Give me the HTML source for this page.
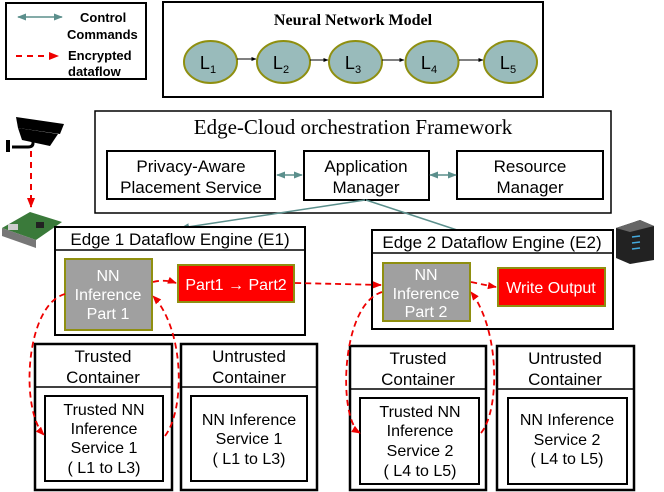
<!DOCTYPE html>
<html><head><meta charset="utf-8"><style>
html,body{margin:0;padding:0;background:#fff;}
svg{display:block;}
text{font-family:"Liberation Sans",Arial,sans-serif;fill:#000;}
.s{font-family:"Liberation Serif",serif;}
.w{fill:#fff;}
</style></head><body>
<svg width="664" height="492" viewBox="0 0 664 492" xmlns="http://www.w3.org/2000/svg">
<defs>
<marker id="tl" viewBox="0 0 10 10" refX="9" refY="5" markerWidth="6" markerHeight="6" orient="auto-start-reverse"><path d="M0,1 L10,5 L0,9 z" fill="#5b8f8c"/></marker>
<marker id="rd" viewBox="0 0 10 10" refX="9" refY="5" markerWidth="5" markerHeight="5" orient="auto"><path d="M0,1 L10,5 L0,9 z" fill="#e00"/></marker>
<marker id="bk" viewBox="0 0 10 10" refX="9" refY="5" markerWidth="5" markerHeight="5" orient="auto"><path d="M0,1 L10,5 L0,9 z" fill="#000"/></marker>
</defs>

<!-- legend -->
<rect x="6" y="3" width="140" height="76" fill="#fff" stroke="#000" stroke-width="2"/>
<line x1="18" y1="17" x2="62" y2="17" stroke="#5b8f8c" stroke-width="1.5" marker-start="url(#tl)" marker-end="url(#tl)"/>
<g font-size="13" font-weight="bold">
<text x="80" y="22">Control</text>
<text x="67" y="39">Commands</text>
<text x="68" y="60">Encrypted</text>
<text x="68" y="76">dataflow</text>
</g>
<line x1="16" y1="56" x2="58" y2="56" stroke="#e00" stroke-width="2" stroke-dasharray="6,5" marker-end="url(#rd)"/>

<!-- NN model -->
<rect x="163" y="2" width="380" height="95" fill="#fff" stroke="#000" stroke-width="2"/>
<text x="353" y="25" class="s" font-size="16" font-weight="bold" text-anchor="middle">Neural Network Model</text>
<g stroke="#8f8f10" stroke-width="2" fill="#99bbbb">
<ellipse cx="210.5" cy="62" rx="26.5" ry="21"/>
<ellipse cx="283.5" cy="62" rx="26.5" ry="21"/>
<ellipse cx="355.5" cy="62" rx="26.5" ry="21"/>
<ellipse cx="432" cy="62" rx="26.5" ry="21"/>
<ellipse cx="510.5" cy="62" rx="26.5" ry="21"/>
</g>
<g stroke="#000" stroke-width="1" marker-end="url(#bk)">
<line x1="237" y1="59" x2="256" y2="59"/><line x1="310" y1="60" x2="328" y2="60"/>
<line x1="382" y1="60" x2="404" y2="60"/><line x1="459" y1="60" x2="483" y2="60"/>
</g>
<g font-size="18" text-anchor="middle">
<text x="208" y="69">L<tspan font-size="11" dy="4">1</tspan></text>
<text x="281" y="69">L<tspan font-size="11" dy="4">2</tspan></text>
<text x="353" y="69">L<tspan font-size="11" dy="4">3</tspan></text>
<text x="429" y="69">L<tspan font-size="11" dy="4">4</tspan></text>
<text x="508" y="69">L<tspan font-size="11" dy="4">5</tspan></text>
</g>

<!-- orchestration -->
<rect x="95" y="111" width="516" height="102" fill="#fff" stroke="#000" stroke-width="1.5"/>
<text x="353" y="134" class="s" font-size="21" text-anchor="middle">Edge-Cloud orchestration Framework</text>
<rect x="107" y="151" width="168" height="48" fill="#fff" stroke="#000" stroke-width="2"/>
<text x="191" y="172" font-size="17" text-anchor="middle">Privacy-Aware</text>
<text x="191" y="193" font-size="17" text-anchor="middle">Placement Service</text>
<rect x="304" y="151" width="125" height="49" fill="#fff" stroke="#000" stroke-width="2"/>
<text x="366" y="172" font-size="17" text-anchor="middle">Application</text>
<text x="366" y="193" font-size="17" text-anchor="middle">Manager</text>
<rect x="457" y="151" width="146" height="48" fill="#fff" stroke="#000" stroke-width="2"/>
<text x="530" y="172" font-size="17" text-anchor="middle">Resource</text>
<text x="530" y="193" font-size="17" text-anchor="middle">Manager</text>
<g stroke="#5b8f8c" stroke-width="1.5">
<line x1="277" y1="175" x2="302" y2="175" marker-start="url(#tl)" marker-end="url(#tl)"/>
<line x1="430" y1="175" x2="456" y2="175" marker-start="url(#tl)" marker-end="url(#tl)"/>
<line x1="365" y1="200" x2="181" y2="228" marker-end="url(#tl)"/>
<line x1="366" y1="200" x2="457" y2="230"/>
</g>

<!-- camera -->
<g fill="#000">
<polygon points="16,117 64,124 60,134 18,128"/>
<polygon points="18,128 58,134 50,146 22,140"/>
<circle cx="33" cy="136" r="3.5"/>
<path d="M33,136 L33,143 Q33,147 28,147 L12,147" stroke="#000" stroke-width="3" fill="none"/>
<rect x="6" y="140" width="4" height="12"/>
</g>
<line x1="31" y1="151" x2="31" y2="207" stroke="#e00" stroke-width="2" stroke-dasharray="6,5" marker-end="url(#rd)"/>
<!-- raspberry pi -->
<polygon points="2,228 30,212 62,222 36,240" fill="#3a7a3a"/>
<polygon points="2,228 36,240 36,248 2,236" fill="#777"/>
<rect x="8" y="224" width="10" height="6" fill="#ccc"/>
<rect x="36" y="222" width="8" height="6" fill="#222"/>
<!-- server -->
<polygon points="616,228 640,220 654,226 654,260 630,264 616,258" fill="#222"/>
<polygon points="616,228 640,220 654,226 630,232" fill="#666"/>
<g stroke="#4ad" stroke-width="1.5"><line x1="632" y1="237" x2="640" y2="236"/><line x1="632" y1="243" x2="640" y2="242"/><line x1="632" y1="249" x2="640" y2="248"/></g>

<!-- E1 -->
<rect x="55" y="227" width="250" height="108" fill="#fff" stroke="#000" stroke-width="2"/>
<line x1="55" y1="250" x2="305" y2="250" stroke="#000" stroke-width="1.5"/>
<text x="180" y="245" font-size="17" text-anchor="middle">Edge 1 Dataflow Engine (E1)</text>
<rect x="65" y="259" width="87" height="71" fill="#a0a0a0" stroke="#8f8f10" stroke-width="2"/>
<g font-size="16" text-anchor="middle"><text class="w" x="108" y="281">NN</text><text class="w" x="108" y="300">Inference</text><text class="w" x="108" y="319">Part 1</text></g>
<rect x="178" y="265" width="116" height="37" fill="#f00" stroke="#8f8f10" stroke-width="2"/>
<text class="w" x="236" y="290" font-size="16" text-anchor="middle">Part1 → Part2</text>

<!-- E2 -->
<rect x="372" y="230" width="241" height="99" fill="#fff" stroke="#000" stroke-width="2"/>
<line x1="372" y1="253" x2="613" y2="253" stroke="#000" stroke-width="1.5"/>
<text x="492" y="248" font-size="17" text-anchor="middle">Edge 2 Dataflow Engine (E2)</text>
<rect x="383" y="263" width="87" height="58" fill="#a0a0a0" stroke="#8f8f10" stroke-width="2"/>
<g font-size="16" text-anchor="middle"><text class="w" x="426" y="280">NN</text><text class="w" x="426" y="299">Inference</text><text class="w" x="426" y="317">Part 2</text></g>
<rect x="498" y="268" width="107" height="38" fill="#f00" stroke="#8f8f10" stroke-width="2"/>
<text class="w" x="551" y="293" font-size="16" text-anchor="middle">Write Output</text>

<!-- containers -->
<g stroke="#000" fill="#fff">
<rect x="35" y="344" width="137" height="146" stroke-width="2.5"/>
<rect x="181" y="344" width="136" height="146" stroke-width="2.5"/>
<rect x="350" y="346" width="136" height="144" stroke-width="2.5"/>
<rect x="497" y="346" width="137" height="144" stroke-width="2.5"/>
<g stroke-width="1.5"><line x1="35" y1="387" x2="172" y2="387"/><line x1="181" y1="387" x2="317" y2="387"/><line x1="350" y1="389" x2="486" y2="389"/><line x1="497" y1="389" x2="634" y2="389"/></g>
<rect x="45" y="396" width="118" height="85" stroke-width="2"/>
<rect x="191" y="396" width="116" height="85" stroke-width="2"/>
<rect x="360" y="398" width="119" height="86" stroke-width="2"/>
<rect x="508" y="398" width="119" height="86" stroke-width="2"/>
</g>
<g font-size="17" text-anchor="middle">
<text x="103" y="362">Trusted</text><text x="103" y="383">Container</text>
<text x="249" y="362">Untrusted</text><text x="249" y="383">Container</text>
<text x="418" y="364">Trusted</text><text x="418" y="385">Container</text>
<text x="565" y="364">Untrusted</text><text x="565" y="385">Container</text>
</g>
<g font-size="16" text-anchor="middle">
<text x="104" y="415">Trusted NN</text><text x="104" y="434">Inference</text><text x="104" y="453">Service 1</text><text x="104" y="473">( L1 to L3)</text>
<text x="249" y="425">NN Inference</text><text x="249" y="444">Service 1</text><text x="249" y="464">( L1 to L3)</text>
<text x="420" y="417">Trusted NN</text><text x="420" y="436">Inference</text><text x="420" y="456">Service 2</text><text x="420" y="476">( L4 to L5)</text>
<text x="567" y="425">NN Inference</text><text x="567" y="445">Service 2</text><text x="567" y="464">( L4 to L5)</text>
</g>

<!-- red dashed flows -->
<g stroke="#e00" stroke-width="1.8" stroke-dasharray="6,4" fill="none">
<path d="M153,282 Q165,279 176,283" marker-end="url(#rd)"/>
<path d="M295,283 Q340,284 381,285" marker-end="url(#rd)"/>
<path d="M471,282 Q485,285 496,287" marker-end="url(#rd)"/>
<path d="M65,294 C25,305 20,410 44,435" marker-end="url(#rd)"/>
<path d="M165,436 C185,410 185,330 153,296" marker-end="url(#rd)"/>
<path d="M382,292 C340,305 338,420 360,433" marker-end="url(#rd)"/>
<path d="M481,433 C500,410 500,330 471,292" marker-end="url(#rd)"/>
</g>
</svg>
</body></html>
